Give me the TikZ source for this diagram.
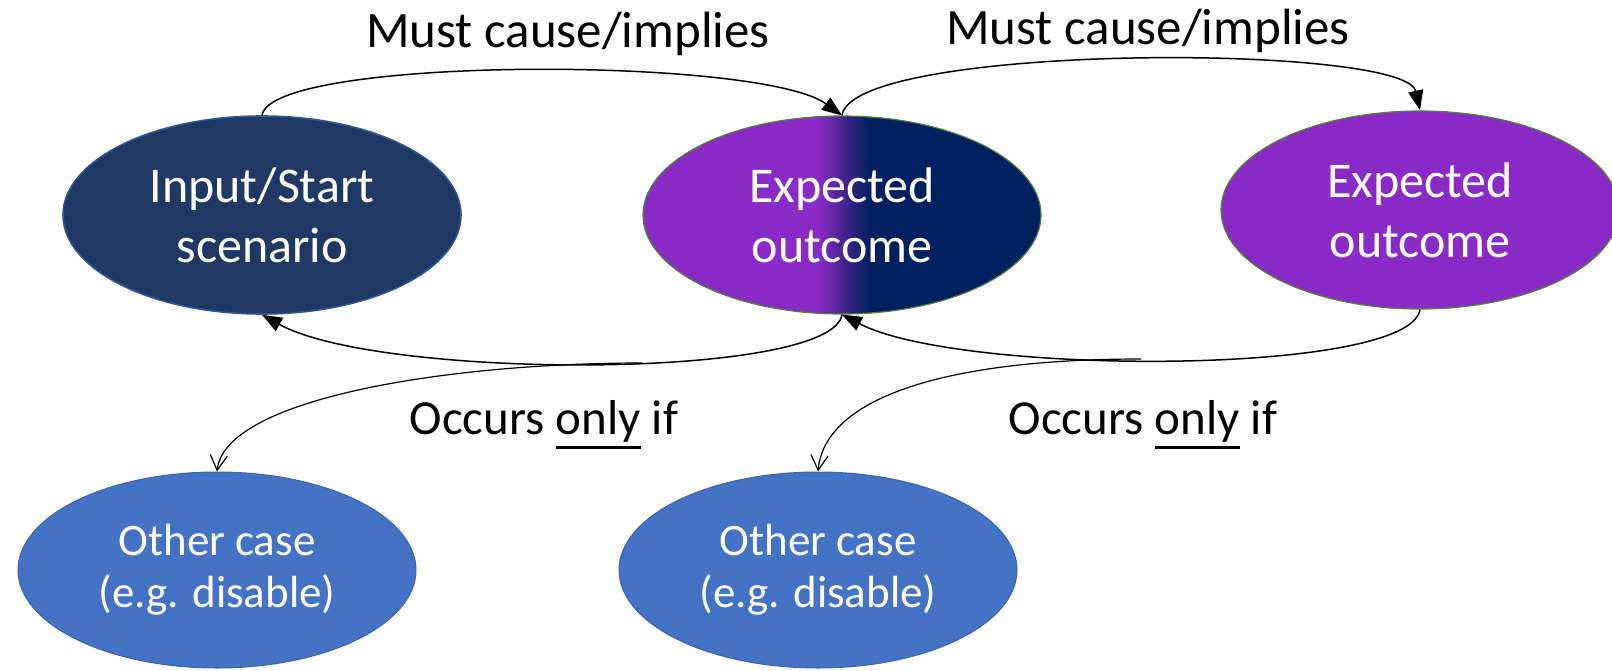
\documentclass[tikz,border=0pt]{standalone}
\usepackage{fontspec}
\setmainfont{Carlito}
\usetikzlibrary{shapes.geometric, arrows.meta}

\definecolor{startnavy}{HTML}{1F3864}
\definecolor{startedge}{HTML}{2F5597}
\definecolor{outpurple}{HTML}{8A2BC8}
\definecolor{outnavy}{HTML}{002060}
\definecolor{outmid}{HTML}{45258F}
\definecolor{outedge}{HTML}{548235}
\definecolor{casefill}{HTML}{4472C4}
\definecolor{caseedge}{HTML}{3A64B0}

% purple on the left, a short blend, navy on the right
\pgfdeclarehorizontalshading{purpletonavy}{100bp}{color(0bp)=(outpurple); color(47bp)=(outpurple); color(50.2bp)=(outmid); color(53.5bp)=(outnavy); color(100bp)=(outnavy)}

% heavy underline sitting just under the baseline
\newcommand{\heavyul}[1]{\setbox0\hbox{#1}\rlap{\rule[-14.5pt]{\wd0}{3pt}}\box0\relax}

\begin{document}
\begin{tikzpicture}[x=1pt, y=-1pt,
  oval/.style={ellipse, inner sep=0pt, minimum width=398pt, minimum height=198pt,
    text=white, align=center, font=\fontsize{50}{60}\selectfont, line width=1.2pt},
  startoval/.style={oval, fill=startnavy, draw=startedge, line width=1.6pt},
  outoval/.style={oval, fill=outpurple, draw=outedge},
  caseoval/.style={oval, minimum height=196pt, font=\fontsize{45}{52}\selectfont,
    fill=casefill, draw=caseedge, line width=1pt},
  lbl/.style={inner sep=0pt, anchor=base},
  link/.style={line width=1.5pt, -{Triangle[length=20pt,width=15pt]}},
  branch/.style={line width=1.2pt, -{Straight Barb[length=15pt,width=17pt,line width=1.2pt]}}
]
\useasboundingbox (0,0) rectangle (1612,670);
\fill[white] (0,0) rectangle (1612,670);

% scenario and outcomes
\node[startoval] (A) at (262,215) {Input/Start\\scenario};
\node[outoval, shading=purpletonavy] (B) at (842,215) {Expected\\outcome};
\node[outoval] (C) at (1420,210) {Expected\\outcome};

% alternative cases
\node[caseoval] (D) at (217,570) {Other case\\(e.g. disable)};
\node[caseoval] (E) at (818,570) {Other case\\(e.g. disable)};

% forward implications
\draw[link] (A.north) .. controls (272,56) and (760,56) .. (B.north);
\node[lbl, font=\fontsize{51}{60}\selectfont] (m1) at (568,47) {Must cause/implies};
\draw[link] (B.north) .. controls (852,43) and (1405,43) .. (C.north);
\node[lbl, font=\fontsize{51}{60}\selectfont] (m2) at (1148,44) {Must cause/implies};

% backward links
\draw[link] (B.south) .. controls (832,380) and (380,380) .. (A.south);
\draw[link] (C.south) .. controls (1410,376) and (960,376) .. (B.south);

% branches to the other cases
\coordinate (j1) at (642,363);
\coordinate (j2) at (1141,359);
\draw[branch] (j1) .. controls (450,363) and (225,398) .. (D.north);
\draw[branch] (j2) .. controls (950,359) and (825,396) .. (E.north);

\node[lbl, font=\fontsize{49}{58}\selectfont] (o1) at (544,434) {Occurs \heavyul{only} if};
\node[lbl, font=\fontsize{49}{58}\selectfont] (o2) at (1143,434) {Occurs \heavyul{only} if};
\end{tikzpicture}
\end{document}
